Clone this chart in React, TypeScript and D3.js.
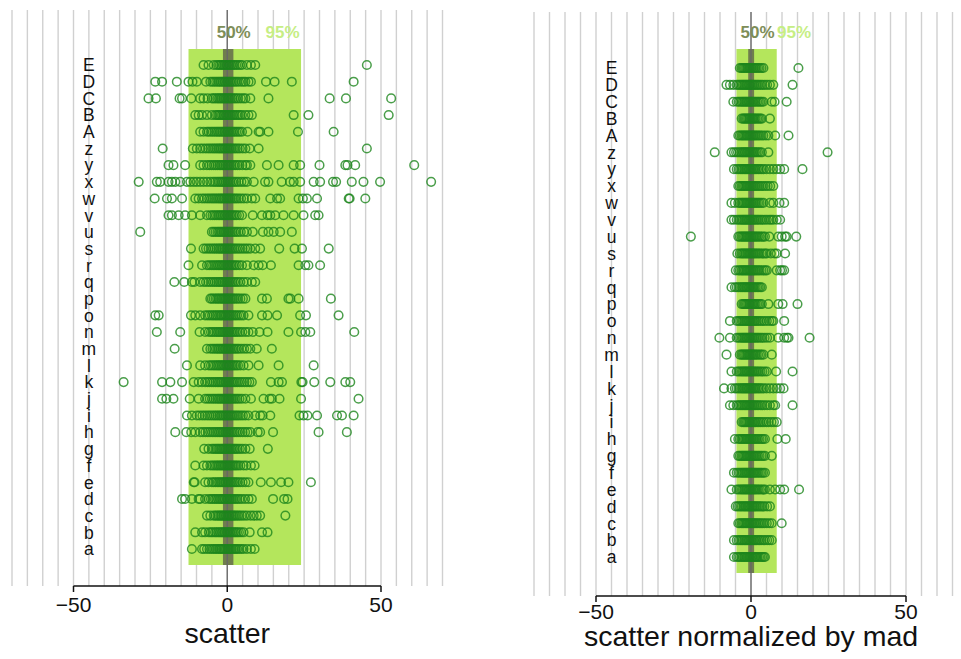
import React from "react";
import * as d3 from "d3";

// Categories, listed bottom to top (there is no "t" row)
const categories = [
  "a", "b", "c", "d", "e", "f", "g", "h", "i", "j", "k", "l", "m", "n", "o",
  "p", "q", "r", "s", "u", "v", "w", "x", "y", "z", "A", "B", "C", "D", "E",
];

// Raw scatter per category (same order as categories)
const scatter: number[][] = [
  [-11.5, -8.2, -7.5, -6.6, -5.8, -5.1, -4.5, -3.9, -3.4, -2.8, -2.3, -1.9, -1.4, -0.9, -0.5, 0.1, 0.5, 1.0, 1.4, 1.9, 2.4, 2.8, 3.3, 3.9, 4.6, 5.3, 6.4, 7.7, 8.9],
  [-10.4, -8.2, -7.2, -6.0, -5.3, -4.7, -4.0, -3.5, -2.9, -2.4, -1.9, -1.5, -1.0, -0.6, -0.1, 0.3, 0.8, 1.2, 1.7, 2.2, 2.7, 3.2, 3.8, 4.5, 5.3, 7.3, 11.3, 13.1],
  [-6.6, -5.5, -4.4, -3.8, -3.2, -2.7, -2.2, -1.8, -1.3, -0.9, -0.4, 0.0, 0.5, 0.9, 1.4, 1.8, 2.3, 2.8, 3.4, 4.0, 4.7, 5.5, 6.4, 7.6, 8.6, 9.6, 10.7, 18.9],
  [-14.7, -13.7, -11.5, -9.3, -8.8, -7.2, -6.0, -5.3, -4.7, -4.1, -3.6, -3.0, -2.5, -2.0, -1.6, -1.1, -0.7, -0.2, 0.2, 0.7, 1.1, 1.6, 2.1, 2.7, 3.3, 4.0, 4.8, 5.8, 6.9, 8.0, 14.9, 18.5, 19.6],
  [-10.9, -10.6, -7.2, -6.1, -5.0, -4.4, -3.8, -3.2, -2.7, -2.2, -1.7, -1.3, -0.8, -0.4, 0.1, 0.5, 1.0, 1.4, 1.9, 2.4, 2.9, 3.5, 4.2, 5.0, 5.9, 6.9, 10.9, 14.2, 17.5, 19.9, 27.2],
  [-10.4, -7.7, -6.6, -5.5, -4.8, -4.2, -3.6, -3.1, -2.6, -2.1, -1.7, -1.2, -0.8, -0.3, 0.1, 0.6, 1.0, 1.5, 2.0, 2.5, 3.0, 3.6, 4.3, 5.3, 6.2, 7.7, 8.9],
  [-7.5, -6.1, -5.0, -4.4, -3.8, -3.3, -2.8, -2.3, -1.8, -1.4, -0.9, -0.5, 0.0, 0.4, 0.9, 1.3, 1.8, 2.3, 2.8, 3.4, 4.1, 4.9, 5.9, 7.3, 13.2],
  [-16.9, -13.3, -11.7, -10.4, -8.8, -7.9, -7.1, -6.3, -5.6, -4.9, -4.3, -3.7, -3.1, -2.6, -2.1, -1.6, -1.1, -0.6, -0.2, 0.3, 0.8, 1.3, 1.8, 2.3, 2.9, 3.5, 4.2, 5.0, 5.8, 6.6, 7.5, 9.9, 10.7, 14.9, 29.7, 38.9],
  [-13.1, -11.5, -9.9, -9.0, -8.1, -7.3, -6.5, -5.8, -5.1, -4.4, -3.8, -3.2, -2.6, -2.1, -1.6, -1.1, -0.6, -0.1, 0.4, 0.9, 1.4, 1.9, 2.5, 3.1, 3.7, 4.4, 5.1, 5.9, 6.9, 9.1, 10.7, 11.5, 14.0, 23.5, 24.8, 26.1, 29.2, 35.7, 37.3, 41.1],
  [-21.2, -19.8, -17.5, -12.2, -9.3, -7.2, -6.4, -5.7, -5.0, -4.4, -3.8, -3.2, -2.7, -2.2, -1.7, -1.2, -0.8, -0.3, 0.2, 0.6, 1.1, 1.6, 2.1, 2.7, 3.3, 4.0, 4.8, 5.9, 7.7, 11.8, 13.8, 14.5, 17.0, 24.0, 42.7],
  [-33.7, -21.2, -18.5, -14.7, -10.9, -9.3, -8.2, -7.2, -6.4, -5.7, -5.0, -4.4, -3.8, -3.2, -2.7, -2.2, -1.7, -1.2, -0.7, -0.3, 0.2, 0.7, 1.2, 1.7, 2.2, 2.8, 3.4, 4.1, 4.8, 5.6, 6.4, 7.2, 8.0, 14.2, 16.7, 17.8, 24.1, 24.5, 28.3, 33.5, 38.4, 40.0],
  [-13.1, -8.8, -7.2, -6.0, -5.3, -4.6, -4.0, -3.4, -2.9, -2.4, -1.9, -1.4, -1.0, -0.5, -0.1, 0.4, 0.8, 1.3, 1.8, 2.3, 2.9, 3.5, 4.3, 5.3, 6.9, 10.2, 16.7, 28.1],
  [-17.1, -6.6, -5.5, -4.8, -4.2, -3.6, -3.1, -2.6, -2.1, -1.6, -1.2, -0.7, -0.3, 0.2, 0.6, 1.1, 1.6, 2.1, 2.6, 3.2, 3.8, 4.6, 5.5, 6.4, 7.5, 9.6, 14.5],
  [-22.9, -15.3, -9.0, -7.2, -6.0, -5.3, -4.7, -4.1, -3.5, -3.0, -2.5, -2.0, -1.5, -1.1, -0.6, -0.2, 0.3, 0.7, 1.2, 1.7, 2.2, 2.8, 3.4, 4.1, 4.9, 5.9, 6.9, 8.3, 10.5, 13.1, 19.9, 24.0, 25.4, 27.0, 41.3],
  [-23.4, -22.3, -11.8, -10.4, -8.8, -7.2, -6.4, -5.7, -5.0, -4.4, -3.8, -3.3, -2.7, -2.2, -1.8, -1.3, -0.8, -0.4, 0.1, 0.6, 1.0, 1.5, 2.0, 2.6, 3.2, 3.9, 4.6, 5.3, 6.9, 11.3, 13.1, 16.2, 23.7, 25.6, 36.2],
  [-5.5, -5.0, -4.4, -3.8, -3.3, -2.8, -2.3, -1.8, -1.4, -0.9, -0.5, 0.0, 0.4, 0.9, 1.4, 1.9, 2.4, 3.0, 3.6, 4.3, 5.1, 5.9, 11.3, 12.9, 19.9, 20.5, 23.2, 33.7],
  [-17.2, -14.0, -11.5, -10.7, -8.8, -7.7, -6.9, -6.1, -5.4, -4.7, -4.1, -3.5, -2.9, -2.4, -1.9, -1.4, -0.9, -0.4, 0.1, 0.6, 1.1, 1.6, 2.2, 2.8, 3.5, 4.3, 5.3, 6.4, 8.0, 9.1],
  [-12.6, -8.2, -6.6, -5.9, -5.2, -4.6, -4.0, -3.4, -2.9, -2.4, -1.9, -1.4, -1.0, -0.5, 0.0, 0.4, 0.9, 1.4, 1.9, 2.5, 3.1, 3.9, 4.8, 6.4, 8.6, 10.2, 11.5, 14.2, 23.2, 25.4, 26.4, 30.2],
  [-11.8, -7.7, -6.9, -6.1, -5.4, -4.7, -4.1, -3.5, -2.9, -2.4, -1.9, -1.4, -0.9, -0.4, 0.1, 0.6, 1.1, 1.6, 2.2, 2.8, 3.5, 4.2, 5.0, 5.8, 6.6, 7.5, 9.1, 10.7, 16.9, 21.9, 24.3, 33.0],
  [-28.3, -5.0, -4.4, -3.8, -3.2, -2.7, -2.2, -1.7, -1.2, -0.8, -0.3, 0.2, 0.7, 1.2, 1.7, 2.3, 2.9, 3.6, 4.4, 5.4, 6.4, 8.3, 11.6, 13.4, 15.1, 17.2, 21.0],
  [-19.1, -18.0, -15.8, -13.7, -11.5, -8.8, -6.6, -5.5, -4.8, -4.2, -3.6, -3.0, -2.5, -2.0, -1.5, -1.0, -0.6, -0.1, 0.4, 0.9, 1.4, 1.9, 2.5, 3.1, 3.9, 4.8, 8.3, 11.3, 13.1, 14.0, 15.6, 18.3, 21.6, 24.8, 28.6, 29.7],
  [-23.6, -19.6, -18.0, -14.7, -10.4, -9.3, -8.2, -7.4, -6.6, -5.9, -5.2, -4.6, -4.0, -3.4, -2.8, -2.3, -1.8, -1.3, -0.8, -0.3, 0.2, 0.7, 1.2, 1.8, 2.4, 3.0, 3.7, 4.5, 5.4, 6.4, 8.0, 9.1, 14.0, 16.2, 17.2, 23.2, 24.6, 25.9, 29.2, 39.5, 39.8, 44.9],
  [-28.8, -22.9, -21.8, -19.1, -18.0, -16.9, -15.3, -13.1, -12.0, -10.9, -9.9, -8.8, -7.7, -6.6, -5.5, -4.6, -3.9, -3.2, -2.6, -2.0, -1.5, -1.0, -0.5, 0.0, 0.5, 1.0, 1.6, 2.2, 2.9, 3.7, 4.6, 5.5, 6.4, 8.6, 12.3, 13.4, 17.7, 20.4, 21.6, 23.7, 28.1, 30.2, 34.4, 35.4, 40.5, 44.3, 49.7, 66.3],
  [-19.1, -17.5, -13.7, -8.8, -7.7, -6.6, -5.8, -5.1, -4.4, -3.8, -3.2, -2.6, -2.1, -1.6, -1.1, -0.6, -0.1, 0.4, 0.9, 1.4, 2.0, 2.6, 3.3, 4.0, 4.9, 5.9, 6.4, 7.5, 12.9, 16.7, 21.6, 23.7, 30.0, 38.4, 39.1, 41.6, 60.8],
  [-21.0, -11.2, -9.9, -8.8, -7.9, -7.0, -6.2, -5.5, -4.8, -4.2, -3.6, -3.0, -2.5, -2.0, -1.5, -1.0, -0.5, 0.0, 0.5, 1.0, 1.5, 2.1, 2.7, 3.4, 4.1, 5.0, 5.9, 7.3, 10.2, 45.4],
  [-8.8, -7.7, -6.6, -6.0, -5.3, -4.7, -4.1, -3.5, -3.0, -2.5, -2.0, -1.5, -1.0, -0.6, -0.1, 0.3, 0.8, 1.3, 1.8, 2.3, 2.9, 3.5, 4.1, 4.8, 6.6, 10.2, 10.7, 13.4, 23.0, 34.6],
  [-10.4, -9.3, -8.2, -6.6, -5.0, -3.9, -3.3, -2.8, -2.3, -1.8, -1.3, -0.9, -0.4, 0.0, 0.5, 0.9, 1.4, 1.9, 2.4, 3.0, 3.6, 4.2, 4.8, 5.9, 6.9, 8.0, 21.6, 26.4, 52.5],
  [-25.6, -23.2, -15.5, -14.7, -11.7, -8.8, -7.7, -6.4, -5.0, -4.4, -3.8, -3.2, -2.7, -2.2, -1.7, -1.2, -0.8, -0.3, 0.2, 0.7, 1.2, 1.7, 2.3, 2.9, 3.6, 4.4, 5.2, 5.9, 7.5, 13.4, 33.3, 38.6, 53.3],
  [-23.4, -21.2, -16.4, -12.6, -11.3, -9.9, -6.9, -5.5, -4.8, -4.2, -3.6, -3.0, -2.5, -2.0, -1.5, -1.0, -0.6, -0.1, 0.4, 0.9, 1.4, 1.9, 2.5, 3.1, 3.8, 4.6, 5.3, 5.9, 6.9, 7.7, 12.6, 15.4, 21.0, 41.1],
  [-7.7, -6.1, -4.4, -3.5, -2.9, -2.4, -1.9, -1.4, -1.0, -0.5, -0.1, 0.4, 0.8, 1.3, 1.8, 2.3, 2.9, 3.5, 4.2, 4.8, 6.4, 7.7, 9.1, 45.4],
];

// Scatter normalized by MAD per category (same order as categories)
const scatterByMad: number[][] = [
  [-5.5, -4.6, -4.1, -3.6, -3.1, -2.7, -2.3, -1.9, -1.5, -1.1, -0.7, -0.3, 0.1, 0.5, 0.9, 1.3, 1.7, 2.1, 2.6, 3.1, 3.6, 4.1, 4.5],
  [-5.5, -4.6, -4.0, -3.5, -3.0, -2.6, -2.2, -1.8, -1.4, -1.0, -0.6, -0.2, 0.2, 0.6, 1.0, 1.4, 1.8, 2.3, 2.8, 3.3, 3.9, 4.5, 5.2, 5.9, 6.7],
  [-4.1, -3.6, -3.1, -2.7, -2.3, -1.9, -1.5, -1.1, -0.7, -0.3, 0.1, 0.5, 0.9, 1.3, 1.7, 2.2, 2.7, 3.2, 3.8, 4.4, 5.1, 5.9, 6.7, 9.9],
  [-4.9, -4.3, -3.8, -3.3, -2.9, -2.4, -2.0, -1.6, -1.2, -0.8, -0.4, 0.0, 0.4, 0.8, 1.2, 1.6, 2.1, 2.6, 3.1, 3.7, 4.3, 5.2, 6.1],
  [-6.3, -4.6, -4.0, -3.5, -3.0, -2.6, -2.2, -1.8, -1.4, -1.0, -0.6, -0.2, 0.2, 0.6, 1.0, 1.4, 1.9, 2.4, 2.9, 3.5, 4.0, 4.5, 6.1, 7.8, 9.4, 10.7, 15.5],
  [-5.5, -4.6, -4.0, -3.5, -3.0, -2.6, -2.2, -1.8, -1.4, -1.0, -0.6, -0.2, 0.2, 0.6, 1.0, 1.4, 1.9, 2.4, 2.9, 3.4, 3.9, 4.5],
  [-4.1, -3.6, -3.1, -2.7, -2.3, -1.9, -1.5, -1.1, -0.7, -0.3, 0.1, 0.5, 0.9, 1.3, 1.8, 2.3, 2.8, 3.4, 3.9, 4.5, 6.7],
  [-5.2, -4.1, -3.6, -3.1, -2.7, -2.3, -1.9, -1.5, -1.1, -0.7, -0.3, 0.1, 0.5, 0.9, 1.3, 1.8, 2.3, 2.8, 3.4, 3.9, 4.5, 8.5, 11.2],
  [-3.0, -2.5, -2.1, -1.7, -1.3, -0.9, -0.5, -0.1, 0.3, 0.7, 1.1, 1.5, 2.0, 2.5, 3.0, 3.6, 4.2, 5.0, 5.7, 6.6, 7.4, 8.3],
  [-6.8, -5.7, -4.6, -4.0, -3.5, -3.0, -2.6, -2.2, -1.8, -1.4, -1.0, -0.6, -0.2, 0.2, 0.6, 1.0, 1.5, 2.0, 2.5, 3.1, 3.7, 4.4, 5.2, 6.1, 7.2, 7.8, 13.4],
  [-8.7, -6.3, -5.2, -4.6, -4.0, -3.5, -3.0, -2.6, -2.2, -1.8, -1.4, -1.0, -0.6, -0.2, 0.2, 0.6, 1.0, 1.4, 1.9, 2.4, 2.9, 3.5, 4.1, 5.0, 6.1, 7.2, 8.3, 9.4, 10.5],
  [-6.3, -4.6, -4.0, -3.5, -3.0, -2.6, -2.2, -1.8, -1.4, -1.0, -0.6, -0.2, 0.2, 0.6, 1.0, 1.5, 2.0, 2.5, 3.1, 3.7, 4.4, 5.1, 8.1, 13.4],
  [-7.9, -3.6, -3.1, -2.7, -2.3, -1.9, -1.5, -1.1, -0.7, -0.3, 0.1, 0.5, 0.9, 1.3, 1.8, 2.3, 2.9, 3.4, 4.0, 6.7],
  [-10.2, -6.8, -4.6, -4.0, -3.5, -3.0, -2.6, -2.2, -1.8, -1.4, -1.0, -0.6, -0.2, 0.2, 0.6, 1.0, 1.5, 2.0, 2.5, 3.1, 3.7, 4.4, 5.2, 6.1, 8.8, 10.7, 11.6, 12.1, 18.9],
  [-6.8, -4.6, -4.0, -3.5, -3.0, -2.6, -2.2, -1.8, -1.4, -1.0, -0.6, -0.2, 0.2, 0.6, 1.0, 1.4, 1.9, 2.4, 3.0, 3.6, 4.3, 5.1, 5.9, 6.7, 7.2, 10.7],
  [-3.0, -2.5, -2.1, -1.7, -1.3, -0.9, -0.5, -0.1, 0.3, 0.7, 1.1, 1.5, 2.0, 2.5, 3.0, 3.5, 5.6, 8.8, 10.2, 15.0],
  [-6.3, -5.2, -4.6, -4.0, -3.5, -3.0, -2.6, -2.2, -1.8, -1.4, -1.0, -0.6, -0.2, 0.2, 0.6, 1.0, 1.5, 2.0, 2.5, 3.0, 3.5],
  [-4.9, -4.1, -3.6, -3.1, -2.7, -2.3, -1.9, -1.5, -1.1, -0.7, -0.3, 0.1, 0.5, 0.9, 1.3, 1.8, 2.3, 2.8, 3.4, 4.0, 4.6, 5.1, 8.3, 9.4, 10.0, 10.7],
  [-4.4, -3.6, -3.1, -2.7, -2.3, -1.9, -1.5, -1.1, -0.7, -0.3, 0.1, 0.5, 0.9, 1.3, 1.8, 2.3, 2.8, 3.4, 4.0, 4.6, 5.1, 6.4, 7.6, 8.3, 11.0],
  [-19.4, -4.1, -3.6, -3.1, -2.7, -2.3, -1.9, -1.5, -1.1, -0.7, -0.3, 0.1, 0.5, 0.9, 1.3, 1.8, 2.3, 2.8, 3.4, 3.9, 4.5, 5.9, 8.8, 9.9, 11.0, 11.5, 14.6],
  [-6.3, -5.5, -4.6, -4.0, -3.5, -3.0, -2.6, -2.2, -1.8, -1.4, -1.0, -0.6, -0.2, 0.2, 0.6, 1.0, 1.5, 2.0, 2.5, 3.1, 3.7, 4.4, 5.1, 5.9, 6.5, 7.2, 8.3, 9.4],
  [-6.3, -5.2, -4.1, -3.6, -3.1, -2.7, -2.3, -1.9, -1.5, -1.1, -0.7, -0.3, 0.1, 0.5, 0.9, 1.3, 1.8, 2.3, 2.8, 3.4, 4.0, 6.1, 7.2, 9.2, 10.7],
  [-4.1, -3.6, -3.1, -2.7, -2.3, -1.9, -1.5, -1.1, -0.7, -0.3, 0.1, 0.5, 0.9, 1.3, 1.8, 2.3, 2.8, 3.4, 4.0, 4.7, 5.4, 6.2, 7.2],
  [-5.5, -4.6, -4.0, -3.5, -3.0, -2.6, -2.2, -1.8, -1.4, -1.0, -0.6, -0.2, 0.2, 0.6, 1.0, 1.4, 1.9, 2.4, 2.9, 3.5, 4.1, 5.0, 6.1, 7.2, 8.3, 9.4, 10.7, 16.6],
  [-11.7, -6.3, -5.5, -4.8, -4.2, -3.6, -3.1, -2.7, -2.3, -1.9, -1.5, -1.1, -0.7, -0.3, 0.1, 0.5, 0.9, 1.3, 1.8, 2.3, 2.9, 3.5, 5.6, 24.7],
  [-4.1, -3.6, -3.1, -2.7, -2.3, -1.9, -1.5, -1.1, -0.7, -0.3, 0.1, 0.5, 0.9, 1.3, 1.8, 2.3, 2.8, 3.4, 4.0, 4.8, 5.6, 7.8, 12.1],
  [-3.0, -2.5, -2.1, -1.7, -1.3, -0.9, -0.5, -0.1, 0.3, 0.7, 1.1, 1.5, 2.0, 2.5, 3.0, 3.5, 6.1],
  [-5.7, -4.6, -4.0, -3.5, -3.0, -2.6, -2.2, -1.8, -1.4, -1.0, -0.6, -0.2, 0.2, 0.6, 1.0, 1.5, 2.0, 2.5, 3.0, 3.5, 4.0, 6.7, 7.6, 11.5],
  [-7.9, -6.8, -5.7, -4.6, -4.0, -3.5, -3.0, -2.6, -2.2, -1.8, -1.4, -1.0, -0.6, -0.2, 0.2, 0.6, 1.0, 1.5, 2.0, 2.5, 3.1, 3.7, 4.4, 5.2, 6.1, 7.2, 13.4],
  [-3.6, -3.1, -2.7, -2.3, -1.9, -1.5, -1.1, -0.7, -0.3, 0.1, 0.5, 0.9, 1.3, 1.8, 2.3, 2.8, 3.4, 4.0, 15.3],
];

// Quantile bands [low, high]
const scatterBand95 = [-12.6, 24.0];
const scatterBand50 = [-1.4, 2.0];
const madBand95 = [-4.7, 8.3];
const madBand50 = [-0.9, 1.0];

const axisTicks = [-50, 0, 50];
const gridValues = d3.range(-70, 71, 5);
const bandLabels = ["50%", "95%"];
const axisTitles = ["scatter", "scatter normalized by mad"];

const FONT = "'Liberation Sans', Arial, Helvetica, sans-serif";
const POINT_COLOR = "#1d861d";

type PanelProps = {
  rows: number[][];
  band95: number[];
  band50: number[];
  title: string;
  xLeft: number;
  xRight: number;
  gridTop: number;
  axisY: number;
  bandTop: number;
  bandBottom: number;
  catTop: number;
  catBottom: number;
  tickLabelY: number;
  titleY: number;
  label50At: number;
  label95At: number;
};

function Panel(p: PanelProps) {
  const x = d3.scaleLinear().domain([-50, 50]).range([p.xLeft, p.xRight]);
  const y = d3
    .scalePoint<string>()
    .domain(categories)
    .range([p.catBottom, p.catTop]);

  return (
    <g>
      {gridValues.map((g) => (
        <line
          key={"g" + g}
          x1={x(g)}
          x2={x(g)}
          y1={p.gridTop}
          y2={p.axisY}
          stroke="#d0d0d0"
          strokeWidth={1.4}
        />
      ))}
      <rect
        x={x(p.band95[0])}
        width={x(p.band95[1]) - x(p.band95[0])}
        y={p.bandTop}
        height={p.bandBottom - p.bandTop}
        fill="#b4e65c"
      />
      <rect
        x={x(p.band50[0])}
        width={x(p.band50[1]) - x(p.band50[0])}
        y={p.bandTop}
        height={p.bandBottom - p.bandTop}
        fill="#6f7d4d"
      />
      <line
        x1={x(0)}
        x2={x(0)}
        y1={p.gridTop}
        y2={p.axisY}
        stroke="#666"
        strokeWidth={1.3}
      />
      {categories.map((c, i) => (
        <g key={"r" + c}>
          {p.rows[i].map((v, j) => (
            <circle
              key={j}
              cx={x(v)}
              cy={y(c)}
              r={4.3}
              fill="none"
              stroke={POINT_COLOR}
              strokeOpacity={0.8}
              strokeWidth={1.5}
            />
          ))}
        </g>
      ))}
      {categories.map((c) => (
        <text
          key={"l" + c}
          x={x(-45)}
          y={y(c)}
          dy="0.36em"
          textAnchor="middle"
          fontFamily={FONT}
          fontSize={17.5}
          fill="#111"
        >
          {c}
        </text>
      ))}
      <text
        x={x(p.label50At)}
        y={38}
        textAnchor="middle"
        fontFamily={FONT}
        fontWeight="bold"
        fontSize={17}
        fill="#7e8e58"
      >
        {bandLabels[0]}
      </text>
      <text
        x={x(p.label95At)}
        y={38}
        textAnchor="middle"
        fontFamily={FONT}
        fontWeight="bold"
        fontSize={17}
        fill="#c6ee84"
      >
        {bandLabels[1]}
      </text>
      <line
        x1={x(-50)}
        x2={x(50)}
        y1={p.axisY}
        y2={p.axisY}
        stroke="#111"
        strokeWidth={1.5}
      />
      {axisTicks.map((t) => (
        <g key={"t" + t}>
          <line
            x1={x(t)}
            x2={x(t)}
            y1={p.axisY}
            y2={p.axisY + 6}
            stroke="#111"
            strokeWidth={1.5}
          />
          <text
            x={x(t)}
            y={p.tickLabelY}
            textAnchor="middle"
            fontFamily={FONT}
            fontSize={21}
            fill="#111"
          >
            {t < 0 ? "\u2212" + Math.abs(t) : String(t)}
          </text>
        </g>
      ))}
      <text
        x={x(0)}
        y={p.titleY}
        textAnchor="middle"
        fontFamily={FONT}
        fontSize={28.5}
        fill="#111"
      >
        {p.title}
      </text>
    </g>
  );
}

export default function App() {
  return (
    <svg
      width={961}
      height={659}
      viewBox="0 0 961 659"
      style={{ position: "absolute", left: 0, top: 0, background: "#fff" }}
    >
      <rect width={961} height={659} fill="#fff" />
      <Panel
        rows={scatter}
        band95={scatterBand95}
        band50={scatterBand50}
        title={axisTitles[0]}
        xLeft={73.5}
        xRight={381}
        gridTop={10}
        axisY={586}
        bandTop={49}
        bandBottom={565}
        catTop={65}
        catBottom={549}
        tickLabelY={612}
        titleY={643}
        label50At={2.1}
        label95At={18}
      />
      <Panel
        rows={scatterByMad}
        band95={madBand95}
        band50={madBand50}
        title={axisTitles[1]}
        xLeft={596}
        xRight={906}
        gridTop={12}
        axisY={596}
        bandTop={49}
        bandBottom={573}
        catTop={68}
        catBottom={557}
        tickLabelY={619}
        titleY={646}
        label50At={2.1}
        label95At={13.9}
      />
    </svg>
  );
}
